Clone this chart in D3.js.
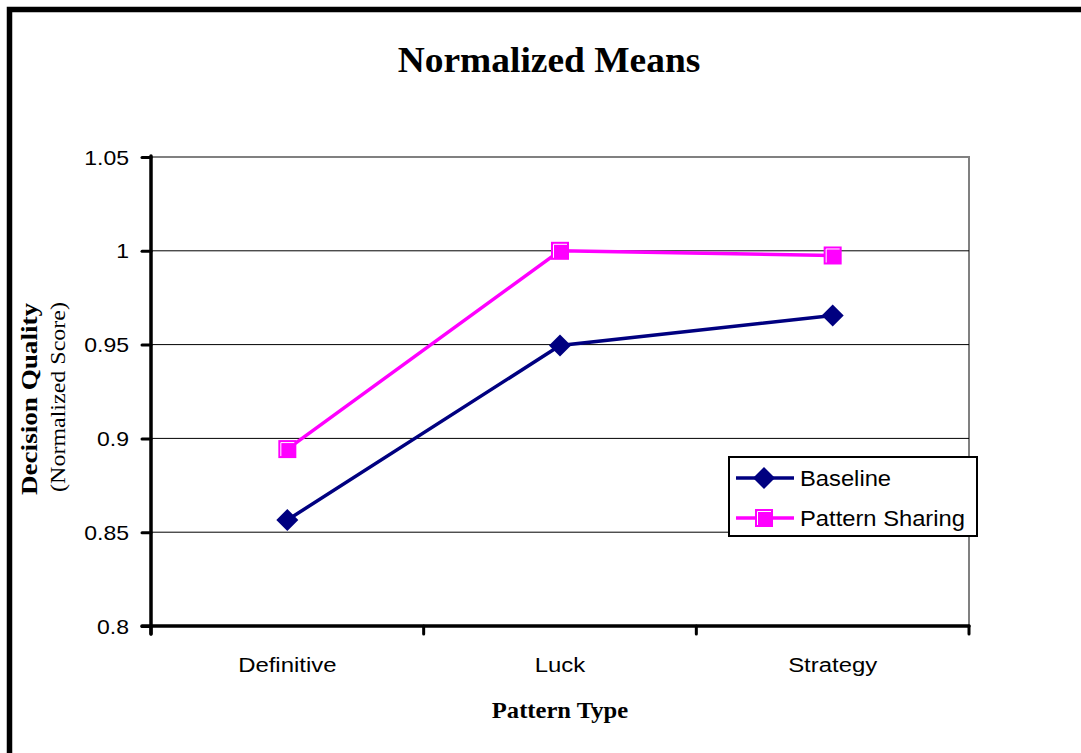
<!DOCTYPE html>
<html>
<head>
<meta charset="utf-8">
<script src="https://cdnjs.cloudflare.com/ajax/libs/d3/7.8.5/d3.min.js"></script>
<style>
  body { margin: 0; background: #fff; }
  svg { display: block; }
</style>
</head>
<body>
<div id="chart"></div>
<script>
const categories = ["Definitive", "Luck", "Strategy"]
const baseline = [0.8565, 0.9495, 0.9655]
const patternSharing = [0.8943, 1.0, 0.9975]
const yTicks = [0.8, 0.85, 0.9, 0.95, 1, 1.05]

const width = 1081
const height = 753
const margin = { top: 157, bottom: 127, left: 151, right: 112 }
const chartWidth = width - margin.left - margin.right
const chartHeight = height - margin.top - margin.bottom

const sans = "Liberation Sans, Arial, sans-serif"
const serif = "Liberation Serif, Times New Roman, serif"

let svg = d3.select("#chart").append("svg")
    .attr("width", width)
    .attr("height", height)

// the original text is a little wider than the fonts we have, so stretch it along its own x
function addText(parent, x, y, txt, opts) {
    let t = parent.append("text")
        .attr("transform", `translate(${x}, ${y}) rotate(${opts.rotate || 0}) scale(${opts.sx || 1}, 1)`)
        .attr("text-anchor", opts.anchor || "middle")
        .attr("font-family", opts.family || sans)
        .attr("font-size", opts.size + "px")
        .attr("fill", "black")
        .text(txt)
    if (opts.bold) t.attr("font-weight", "bold")
    return t
}

// outer frame (runs off the right and bottom edges)
svg.append("rect")
    .attr("x", 9.5).attr("y", 9.5)
    .attr("width", width + 20).attr("height", height + 20)
    .attr("fill", "none")
    .attr("stroke", "black")
    .attr("stroke-width", 5.5)

addText(svg, 549, 72, "Normalized Means", { size: 35, family: serif, bold: true, sx: 1.07 })

let chart = svg.append("g").attr("transform", `translate(${margin.left}, ${margin.top})`)

let xScale = d3.scaleBand().domain(categories).range([0, chartWidth])
let yScale = d3.scaleLinear().domain([0.8, 1.05]).range([chartHeight, 0])

// plot area border
chart.append("rect")
    .attr("x", 0).attr("y", 0)
    .attr("width", chartWidth).attr("height", chartHeight)
    .attr("fill", "none")
    .attr("stroke", "#808080")
    .attr("stroke-width", 2)

// gridlines
chart.selectAll(".grid")
    .data(yTicks.filter(d => d > 0.8 && d < 1.05))
    .join("line")
    .attr("class", "grid")
    .attr("x1", 0).attr("x2", chartWidth)
    .attr("y1", d => yScale(d)).attr("y2", d => yScale(d))
    .attr("stroke", "black")
    .attr("stroke-width", 1)

// y axis
let yAxis = d3.axisLeft(yScale).tickValues(yTicks).tickSize(9).tickFormat(d => d3.format("")(d))
let yAxisG = chart.append("g").call(yAxis)
yAxisG.select(".domain").remove()
yAxisG.selectAll(".tick line").attr("stroke-width", 3).attr("stroke-linecap", "round")
yAxisG.append("line").attr("y1", -1).attr("y2", chartHeight + 8)
    .attr("stroke", "black").attr("stroke-width", 3.5).attr("stroke-linecap", "round")
yAxisG.selectAll(".tick text")
    .attr("x", null).attr("dy", null)
    .attr("transform", "translate(-22, 7) scale(1.15, 1)")
    .attr("font-family", sans)
    .attr("font-size", "20px")
    .attr("fill", "black")

// x axis (ticks between categories)
let xAxisG = chart.append("g").attr("transform", `translate(0, ${chartHeight})`)
xAxisG.append("line").attr("x1", -9).attr("x2", chartWidth)
    .attr("stroke", "black").attr("stroke-width", 3.5).attr("stroke-linecap", "round")
let xTickPos = [0].concat(categories.map(c => xScale(c) + xScale.bandwidth()))
xAxisG.selectAll(".xtick")
    .data(xTickPos)
    .join("line")
    .attr("class", "xtick")
    .attr("x1", d => d).attr("x2", d => d)
    .attr("y1", 0).attr("y2", 8)
    .attr("stroke", "black").attr("stroke-width", 3).attr("stroke-linecap", "round")
categories.forEach(c => {
    addText(xAxisG, xScale(c) + xScale.bandwidth() / 2, 46, c, { size: 21, sx: 1.14 })
})

// axis titles
addText(svg, 560, 718, "Pattern Type", { size: 23, family: serif, bold: true, sx: 1.07 })
addText(svg, 37, 399, "Decision Quality", { size: 23, family: serif, bold: true, sx: 1.18, rotate: -90 })
addText(svg, 65, 397, "(Normalized Score)", { size: 20, family: serif, sx: 1.2, rotate: -90 })

// series
let series = [
    { name: "Baseline", values: baseline, color: "#000080", marker: "diamond" },
    { name: "Pattern Sharing", values: patternSharing, color: "#FF00FF", marker: "square" }
]

let line = d3.line()
    .x((d, i) => xScale(categories[i]) + xScale.bandwidth() / 2)
    .y(d => yScale(d))

function drawMarker(g, type, color) {
    if (type === "diamond") {
        g.append("path").attr("d", "M0,-11L11,0L0,11L-11,0Z").attr("fill", color)
    } else {
        g.append("rect").attr("x", -9).attr("y", -9).attr("width", 18).attr("height", 18).attr("fill", color)
        g.append("path").attr("d", "M-6.5,7V-6.5H7").attr("fill", "none").attr("stroke", "white").attr("stroke-width", 1)
    }
}

series.forEach(s => {
    chart.append("path")
        .attr("d", line(s.values))
        .attr("fill", "none")
        .attr("stroke", s.color)
        .attr("stroke-width", 3.5)
    s.values.forEach((v, i) => {
        let g = chart.append("g")
            .attr("transform", `translate(${xScale(categories[i]) + xScale.bandwidth() / 2}, ${yScale(v)})`)
        drawMarker(g, s.marker, s.color)
    })
})

// legend
let legend = svg.append("g").attr("transform", "translate(729, 457)")
legend.append("rect")
    .attr("width", 248).attr("height", 79)
    .attr("fill", "white")
    .attr("stroke", "black")
    .attr("stroke-width", 2)

series.forEach((s, i) => {
    let y = 21 + i * 40
    legend.append("line")
        .attr("x1", 7).attr("x2", 65).attr("y1", y).attr("y2", y)
        .attr("stroke", s.color).attr("stroke-width", 3.5)
    let g = legend.append("g").attr("transform", `translate(35, ${y})`)
    drawMarker(g, s.marker, s.color)
    addText(legend, 71, y + 8, s.name, { size: 22, sx: 1.08, anchor: "start" })
})
</script>
</body>
</html>
